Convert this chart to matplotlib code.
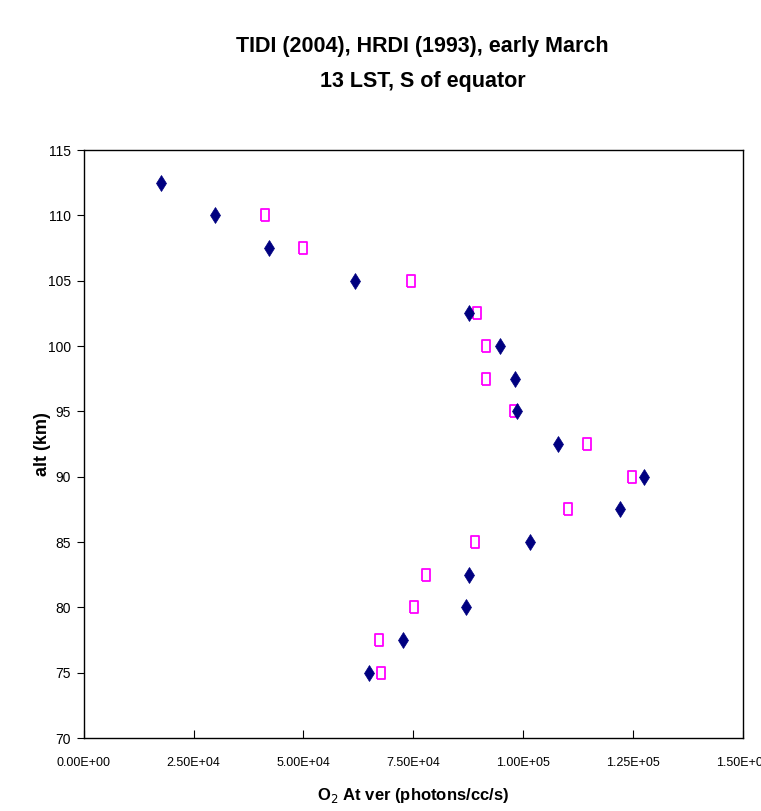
import numpy as np
import matplotlib.pyplot as plt

# altitude (km) and O2 atmospheric band VER (photons/cc/s)
alt_tidi = [112.5, 110, 107.5, 105, 102.5, 100, 97.5, 95, 92.5, 90, 87.5, 85, 82.5, 80, 77.5, 75]
ver_tidi = [17.5e3, 29.8e3, 42.1e3, 61.8e3, 87.8e3, 94.7e3, 98.1e3, 98.6e3, 108.0e3, 127.6e3,
            122.0e3, 101.5e3, 87.6e3, 87.1e3, 72.6e3, 64.9e3]

alt_hrdi = [110, 107.5, 105, 102.5, 100, 97.5, 95, 92.5, 90, 87.5, 85, 82.5, 80, 77.5, 75]
ver_hrdi = [41.3e3, 49.8e3, 74.6e3, 89.6e3, 91.5e3, 91.5e3, 97.9e3, 114.5e3, 124.7e3,
            110.3e3, 89.0e3, 78.0e3, 75.2e3, 67.2e3, 67.6e3]

xticks = [0, 2.5e4, 5e4, 7.5e4, 1e5, 1.25e5, 1.5e5]
xticklabels = ['0.00E+00', '2.50E+04', '5.00E+04', '7.50E+04', '1.00E+05', '1.25E+05', '1.50E+05']
yticks = np.arange(70, 116, 5)

plt.rcParams['font.family'] = ['Liberation Sans', 'DejaVu Sans']

fig = plt.figure(figsize=(7.61, 8.11), dpi=100)
ax = fig.add_axes([0.110, 0.090, 0.866, 0.725])

rect = [(-0.35, -0.5), (0.35, -0.5), (0.35, 0.5), (-0.35, 0.5), (-0.35, -0.5)]
ax.plot(ver_hrdi, alt_hrdi, linestyle='none', marker=rect, markersize=8,
        markerfacecolor='white', markeredgecolor='#ff00ff', markeredgewidth=1.3)
ax.plot(ver_tidi, alt_tidi, linestyle='none', marker='d', markersize=8,
        color='#000080', markeredgewidth=0.5)

ax.set_xlim(0, 1.5e5)
ax.set_ylim(70, 115)
ax.set_xticks(xticks)
ax.set_xticklabels(xticklabels)
ax.set_yticks(yticks)
ax.tick_params(axis='x', direction='in', length=6, labelsize=9, pad=14)
ax.tick_params(axis='y', direction='out', length=5, labelsize=10, pad=4)
for s in ax.spines.values():
    s.set_linewidth(1.0)
    s.set_color('black')

ax.set_xlabel('O$_{2}$ At ver (photons/cc/s)', fontsize=12, fontweight='bold', labelpad=12)
ax.set_ylabel('alt (km)', fontsize=13, fontweight='bold', labelpad=-2)

fig.text(0.555, 0.943, 'TIDI (2004), HRDI (1993), early March', ha='center', va='center',
         fontsize=15.5, fontweight='bold')
fig.text(0.555, 0.900, '13 LST, S of equator', ha='center', va='center',
         fontsize=15.5, fontweight='bold')

fig.savefig('out.png', dpi=100)
